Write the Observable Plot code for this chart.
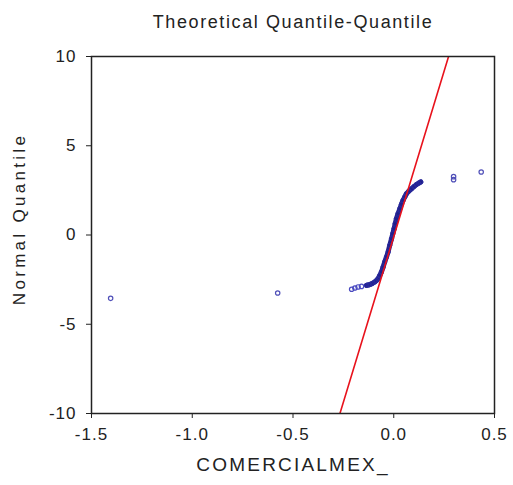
<!DOCTYPE html>
<html><head><meta charset="utf-8">
<script src="https://cdn.jsdelivr.net/npm/d3@7"></script>
<script src="https://cdn.jsdelivr.net/npm/@observablehq/plot@0.6"></script>
<style>
html,body{margin:0;padding:0;background:#fff;overflow:hidden;}
#title{box-sizing:border-box;height:40px;padding-top:13px;line-height:18px;width:586px;text-align:center;
  font-family:"Liberation Sans",Arial,sans-serif;font-size:18px;letter-spacing:1.6px;color:#222;white-space:nowrap;}
</style></head><body>
<div id="title">Theoretical Quantile-Quantile</div>
<div id="chart"></div>
<script>
// ---- data ----
const xTicks = [-1.5, -1.0, -0.5, 0.0, 0.5];
const yTicks = [-10, -5, 0, 5, 10];
const xLabel = "COMERCIALMEX_";
const yLabel = "Normal Quantile";

// isolated observations
const outlierX = [-1.405, -0.576, 0.297, 0.297, 0.434];
const outlierY = [-3.55, -3.25, 3.10, 3.27, 3.53];
// lower tail
const tailX = [-0.209, -0.193, -0.177, -0.160];
const tailY = [-3.04, -2.97, -2.91, -2.88];
// dense body of the Q-Q curve
const curveX = [-0.135, -0.127, -0.119, -0.106, -0.094, -0.086, -0.078, -0.070, -0.061, -0.053, -0.045, -0.036, -0.028, -0.020, -0.011, -0.005, 0.0015, 0.007, 0.013, 0.021, 0.030, 0.038, 0.046, 0.055, 0.063, 0.075, 0.088, 0.100, 0.112, 0.123, 0.134];
const curveY = [-2.82, -2.80, -2.78, -2.71, -2.63, -2.55, -2.45, -2.28, -2.07, -1.80, -1.51, -1.23, -0.95, -0.58, -0.21, 0.07, 0.35, 0.63, 0.91, 1.19, 1.47, 1.72, 1.94, 2.14, 2.31, 2.46, 2.59, 2.71, 2.82, 2.90, 2.97];
// reference (fitted normal) line: y = slope * x + intercept
const fitSlope = 37.1;
const fitIntercept = -0.093;

const curve = curveX.map((x, i) => ({x, y: curveY[i]}));
const tail = tailX.map((x, i) => ({x, y: tailY[i]}));
const outliers = outlierX.map((x, i) => ({x, y: outlierY[i]}));
const fit = [xTicks[0], xTicks[xTicks.length - 1]].map(x => ({x, y: fitSlope * x + fitIntercept}));

const font = {fontFamily: '"Liberation Sans", Arial, sans-serif'};

const chart = Plot.plot({
  width: 513,
  height: 445,
  marginLeft: 91,
  marginRight: 19,
  marginTop: 16,
  marginBottom: 72,
  style: {background: "#fff", color: "#222", fontFamily: font.fontFamily, fontSize: "17px", letterSpacing: "1px"},
  x: {domain: [xTicks[0], xTicks[xTicks.length - 1]]},
  y: {domain: [yTicks[0], yTicks[yTicks.length - 1]]},
  marks: [
    Plot.axisX({ticks: xTicks, tickFormat: d => d.toFixed(1), tickSize: 5, tickPadding: 9, label: null, fontSize: 17, stroke: "#222"}),
    Plot.axisY({ticks: yTicks, tickFormat: d => String(d), tickSize: 5, tickPadding: 10, label: null, fontSize: 17, stroke: "#222"}),
    Plot.line(curve, {x: "x", y: "y", stroke: "#20208a", strokeWidth: 5, strokeLinecap: "round"}),
    Plot.dot(curve, {x: "x", y: "y", r: 2.2, stroke: "#2a2aa0", strokeWidth: 1, fill: "none"}),
    Plot.dot(tail, {x: "x", y: "y", r: 2.2, stroke: "#4a4ac0", strokeWidth: 1.2, fill: "none"}),
    Plot.dot(outliers, {x: "x", y: "y", r: 2.2, stroke: "#5050b8", strokeWidth: 1.2, fill: "none"}),
    Plot.line(fit, {x: "x", y: "y", stroke: "#e8121c", strokeWidth: 1.6, clip: true}),
    Plot.frame({stroke: "#222", strokeWidth: 1.5}),
    Plot.text([xLabel], {frameAnchor: "bottom", dy: 57, text: d => d, fontSize: 19, fill: "#222", className: "xlab"}),
    Plot.text([yLabel], {frameAnchor: "left", textAnchor: "middle", dx: -72, dy: -16, rotate: -90, text: d => d, fontSize: 17, fill: "#222", className: "ylab"})
  ]
});
d3.select(chart).selectAll(".xlab text").style("letter-spacing", "2.2px");
d3.select(chart).selectAll(".ylab text").style("letter-spacing", "3.3px");
document.getElementById("chart").appendChild(chart);
</script>
</body></html>
